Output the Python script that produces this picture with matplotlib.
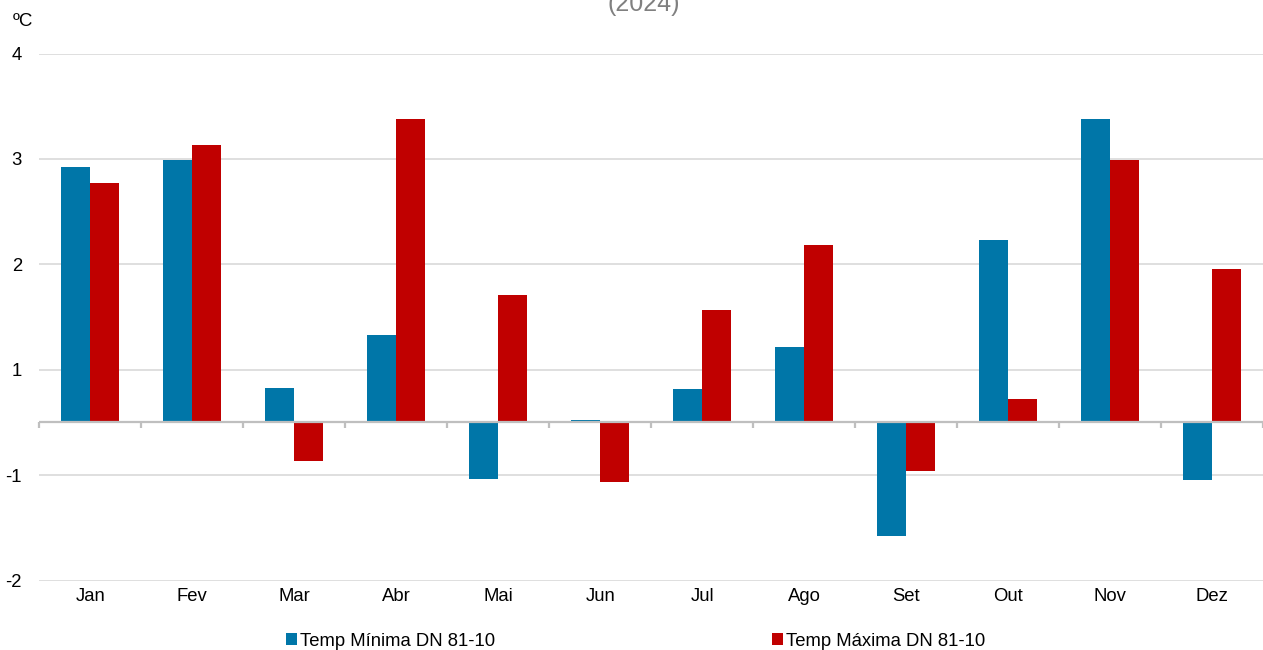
import math
import matplotlib
matplotlib.use("Agg")
import matplotlib.pyplot as plt
from matplotlib.ticker import FixedLocator, FuncFormatter
import numpy as np

plt.rcParams['font.family'] = ['Liberation Sans', 'DejaVu Sans']

# Monthly temperature anomalies (ºC) relative to the 1981-2010 normal
months = ["Jan", "Fev", "Mar", "Abr", "Mai", "Jun", "Jul", "Ago", "Set", "Out", "Nov", "Dez"]
temp_min = [2.42, 2.49, 0.33, 0.83, -0.54, 0.02, 0.32, 0.72, -1.08, 1.73, 2.88, -0.55]
temp_max = [2.27, 2.63, -0.37, 2.88, 1.21, -0.56, 1.07, 1.68, -0.46, 0.22, 2.49, 1.46]
series_names = ["Temp Mínima DN 81-10", "Temp Máxima DN 81-10"]
title = "(2024)"
unit = "ºC"

BLUE = "#0076A8"
RED = "#C00000"

W, H = 1263, 650
fig = plt.figure(figsize=(W / 100, H / 100), dpi=100)
ax = fig.add_axes([39.3 / W, 1 - 580.6 / H, 1 - 39.3 / W, (580.6 - 53.5) / H])

x = np.arange(len(months))
bw = 0.285
b1 = ax.bar(x - bw / 2, temp_min, width=bw, color=BLUE, zorder=3, linewidth=0)
b2 = ax.bar(x + bw / 2, temp_max, width=bw, color=RED, zorder=3, linewidth=0)

ax.set_xlim(-0.5, len(months) - 0.5)
ax.set_ylim(-1.5, 3.5)

# gridlines at half-units, labelled with spreadsheet-style rounding
yt = np.arange(-1.5, 3.6, 1.0)
ax.yaxis.set_major_locator(FixedLocator(yt))


def excel_round(v, pos=None):
    return str(int(math.copysign(math.floor(abs(v) + 0.5), v)))


ax.yaxis.set_major_formatter(FuncFormatter(excel_round))
ax.grid(axis="y", color="#D9D9D9", linewidth=1.2, zorder=0)
ax.tick_params(axis="y", length=0, pad=12.5, labelsize=13.3)
ax.set_xticks(x)
ax.set_xticklabels(months)
ax.tick_params(axis="x", length=0, pad=5, labelsize=13.3)
for s in ax.spines.values():
    s.set_visible(False)

# category axis at zero with boundary tick marks
ax.axhline(0, color="#BFBFBF", linewidth=1.6, zorder=4)
tick_len = 6 / 105.55
ax.vlines(np.arange(-0.5, len(months) + 0.5, 1.0), -tick_len, 0,
          colors="#BFBFBF", linewidth=1.6, zorder=4, clip_on=False)

fig.text(644 / W, 1 - 11 / H, title, ha="center", va="baseline",
         fontsize=18, color="#808080")
fig.text(13 / W, 1 - 21 / H, unit, ha="left", va="center", fontsize=13.5)

fig.legend([b1, b2], series_names, loc="center", bbox_to_anchor=(636 / W, 1 - 641 / H),
           ncol=2, frameon=False, fontsize=13.3, handlelength=0.55, handleheight=0.55,
           handletextpad=0.2, columnspacing=15.0, borderaxespad=0, borderpad=0)

fig.savefig("out.png", dpi=100, facecolor="white")
